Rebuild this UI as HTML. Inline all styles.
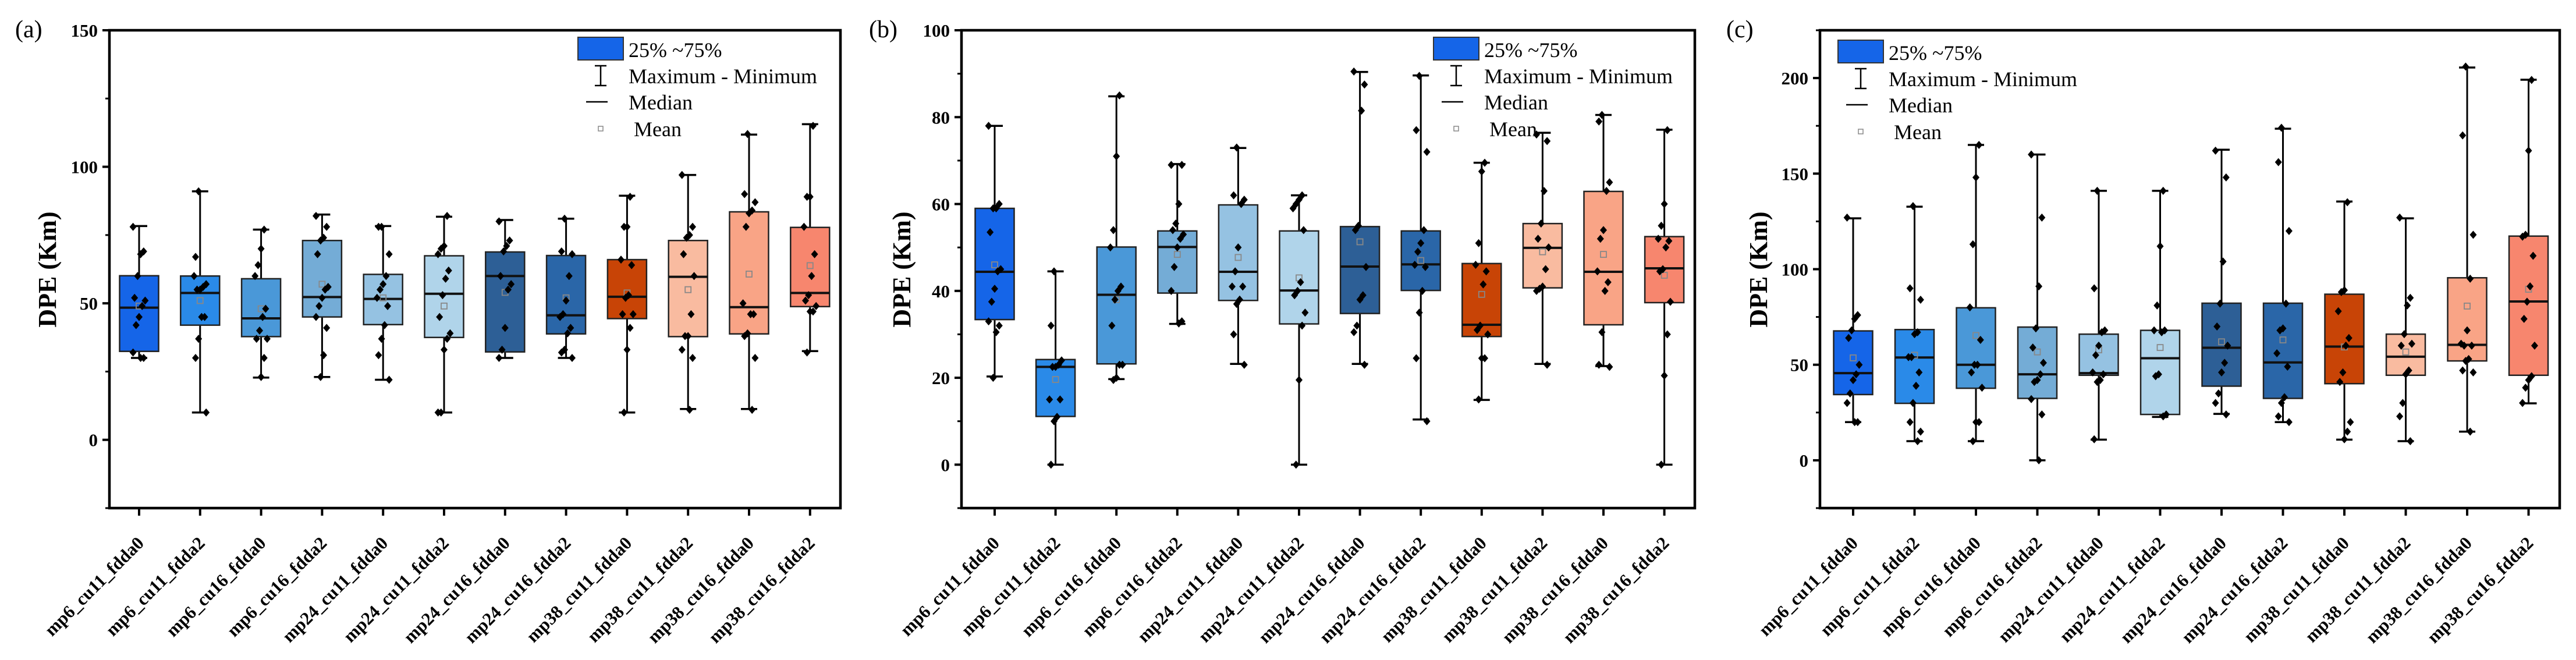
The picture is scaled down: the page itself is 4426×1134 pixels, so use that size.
<!DOCTYPE html>
<html><head><meta charset="utf-8"><style>
html,body{margin:0;padding:0;background:#fff;}
svg{display:block;}
</style></head><body>
<svg id="fig" width="4426" height="1134" viewBox="0 0 4426 1134" xmlns="http://www.w3.org/2000/svg" font-family="'Liberation Serif', serif"></svg>
<script>
const categories = ["mp6_cu11_fdda0","mp6_cu11_fdda2","mp6_cu16_fdda0","mp6_cu16_fdda2","mp24_cu11_fdda0","mp24_cu11_fdda2","mp24_cu16_fdda0","mp24_cu16_fdda2","mp38_cu11_fdda0","mp38_cu11_fdda2","mp38_cu16_fdda0","mp38_cu16_fdda2"];
const boxColors = ["#1565e8","#2a8ae8","#4a98d8","#74acd6","#95c2e2","#b0d4ea","#2d5f96","#2a66a8","#c84406","#f9bba0","#f9a486","#f7866e"];

// Panel (a)
const aQ1 = [32.4,42,37.8,45,42.2,37.5,32.2,38.8,44.4,37.8,38.8,48.8];
const aQ3 = [60.1,60,59,73,60.6,67.4,68.8,67.5,66,73,83.5,77.8];
const aMed = [48.4,53.8,44.5,52.3,51.6,53.5,60,45.6,52.4,59.7,48.6,53.8];
const aMax = [78.3,91,77,82.5,78.3,81.7,80.5,81,89.4,97,111.8,115.6];
const aMin = [30,10,22.8,23,22,10,30,30,10,11.3,11.3,32.5];
const aMean = [49,51,48,57,52,49,54,52,53.8,55,60.7,63.8];
const aPts = [
 [78,69,68,60,52,51,49,45,42,32,30,30],
 [91,67,57,56,55,55,60,45,45,37,30,10],
 [77,70,64,60,48,45,40,37,37,30,23],
 [82,78,74,73,68,56,55,52,49,45,41,31,23],
 [78,78,68,60,57,55,52,49,42,37,31,22],
 [82,71,70,68,62,59,53,45,39,37,33,10,10],
 [80,73,71,69,60,57,55,41,33,30],
 [81,69,68,60,51,46,45,41,39,33,32,30],
 [89,78,78,66,64,53,52,46,46,41,33,10],
 [97,78,75,74,68,60,46,38,38,33,30,11],
 [112,90,87,84,83,78,50,46,46,39,38,30,11],
 [115,89,89,78,68,60,53,51,49,47,47,32]];
const aTicks = [0,50,100,150];
const aMinor = [-25,25,75,125];

// Panel (b)
const bQ1 = [33.4,11.1,23.2,39.5,37.8,32.4,34.8,40.1,29.5,40.7,32.2,37.3];
const bQ3 = [59,24.2,50.1,53.8,59.8,53.8,54.8,53.8,46.3,55.5,62.9,52.5];
const bMed = [44.4,22.5,39.1,50.1,44.4,40.1,45.6,46.1,32.2,49.9,44.4,45.2];
const bMax = [78,44.5,84.8,69.2,72.9,62,90.4,89.6,69.5,76.4,80.5,77.1];
const bMin = [20.3,0,19.7,32.4,23.2,0,23.2,10.4,14.9,23.2,22.7,0];
const bMean = [46,19.6,38,48.4,47.7,43,51.3,47,39.2,49,48.4,43.6];
const bPts = [
 [78,60,59,59,53.5,45,44.5,40.5,37.5,33,32,30.5,20],
 [44.5,32,24,23,22.5,22.5,15,15,11,10,0],
 [85,71,54,50,41,40,38,32,23,23,20,19.5],
 [69,69,60,55.5,54,53,52,50,45.5,40,33,32.5],
 [73,62,61,60,50,44.5,41,41,38,37,30,23],
 [62,61,60,59,54,42,40,39,35,32,19.5,0],
 [90.5,87.5,81.5,55,54,45.5,39,38,32,30.5,23],
 [89.5,77,72,54,51,49,46,45.5,40,35,24.5,10],
 [69.5,67.5,51,46,44.5,41.5,32,31,30,24.5,24.5,15],
 [76,74.5,63,55.5,52,50,45,41,40.5,40,23],
 [80.5,79,65,63,54,52,44.5,42,40,30.5,23,22.5],
 [77,60,55,52,51.5,50,45,44.5,37.5,30,20.5,0]];
const bTicks = [0,20,40,60,80,100];
const bMinor = [-10,10,30,50,70,90];

// Panel (c)
const cQ1 = [34.4,29.8,37.7,32.4,44.5,24,38.8,32.4,40.1,44.5,52,44.5];
const cQ3 = [67.7,68.4,79.8,69.7,66,68,82.2,82.2,86.9,66,95.5,117.3];
const cMed = [45.6,53.8,50,45,45.6,53.4,58.9,51.2,59.5,54.2,60.4,83.1];
const cMax = [126.6,132.7,165,160,141,141,162.5,173.5,135.4,126.6,205.5,199.1];
const cMin = [20,10,10,0,10.8,22.7,24.3,20,10.8,10,15,29.8];
const cMean = [53.6,55,65.3,56.7,57.8,59,62,63,59.3,56.7,80.7,89.5];
const cPts = [
 [127,76,74,68,64,50,45,42,35,30,20,20],
 [133,90,84,67,66,54,54,46,39,30,20,15,10],
 [165,148,113,80,63,50,50,46,38,20,20,10],
 [160,127,91,69,59,51,45,42,41,32,24,0],
 [141,90,68,67,60,55,46,45,42,41,11],
 [141,112,81,68,68,67,45,44,24,23],
 [162,148,104,82,70,60,51,46,35,30,24],
 [174,156,120,82,69,68,56,49,33,30,23,20],
 [135,89,88,78,64,60,46,41,20,15,11],
 [127,85,81,66,60,61,47,45,30,23,10],
 [206,170,118,95,68,60,61,60,53,52,47,46,15],
 [199,162,118,117,107,91,83,74,60,44,42,38,30]];
const cTicks = [0,50,100,150,200];
const cMinor = [-25,25,75,125,175,225];

const NS = "http://www.w3.org/2000/svg";
const svg = document.getElementById("fig");
function mk(tag, attrs, parent){
  const e = document.createElementNS(NS, tag);
  for (const k in attrs) e.setAttribute(k, attrs[k]);
  (parent||svg).appendChild(e);
  return e;
}

function panel(cfg){
  const g = mk("g", {});
  
  
  const top = 52, bot = 873;
  const ys = v => bot - (v - cfg.ymin) / (cfg.ymax - cfg.ymin) * (bot - top);
  const xs = i => cfg.x0 + i * cfg.step;
  const bw = 67, cap = 28;

  const lab = mk("text", {x: cfg.labX, y: 64, "font-size": 42}, g);
  lab.textContent = "(" + cfg.tag + ")";
  
  

  const yt = mk("text", {x: 0, y: 0, "font-size": 44, "font-weight": "bold", "text-anchor": "middle",
    transform: `translate(${cfg.titleX},463) rotate(-90)`}, g);
  yt.textContent = "DPE (Km)";
  
  

  cfg.ticks.forEach(t => {
    const y = ys(t);
    const tk = mk("line", {x1: cfg.left - 12, x2: cfg.left, y1: y, y2: y, stroke: "#000", "stroke-width": 4}, g);
    
    
    const tl = mk("text", {x: cfg.left - 20, y: y + 11, "font-size": 31, "font-weight": "bold", "text-anchor": "end"}, g);
    tl.textContent = t;
    
    
  });
  cfg.minor.forEach(t => {
    const y = ys(t);
    if (y < top - 1 || y > bot + 1) return;
    const mt = mk("line", {x1: cfg.left - 7, x2: cfg.left, y1: y, y2: y, stroke: "#000", "stroke-width": 3}, g);
    
    
  });

  categories.forEach((c, i) => {
    const x = xs(i);
    const color = boxColors[i];
    const gb = mk("g", {}, g);
    
    
    const w = mk("line", {x1: x, x2: x, y1: ys(cfg.max[i]), y2: ys(cfg.min[i]), stroke: "#000", "stroke-width": 3}, gb);
    
    
    [cfg.max[i], cfg.min[i]].forEach(v => {
      const cl = mk("line", {x1: x - cap/2, x2: x + cap/2, y1: ys(v), y2: ys(v), stroke: "#000", "stroke-width": 3.5}, gb);
      
      
    });
    const r = mk("rect", {x: x - bw/2, y: ys(cfg.q3[i]), width: bw, height: ys(cfg.q1[i]) - ys(cfg.q3[i]),
      fill: color, stroke: "#222", "stroke-width": 2.5}, gb);
    
    
    const md = mk("line", {x1: x - bw/2, x2: x + bw/2, y1: ys(cfg.med[i]), y2: ys(cfg.med[i]), stroke: "#111", "stroke-width": 4}, gb);
    
    
    const mn = mk("rect", {x: x - 5, y: ys(cfg.mean[i]) - 5, width: 10, height: 10, fill: "none", stroke: "#888", "stroke-width": 1.8}, gb);
    
    
    cfg.pts[i].forEach((v, k) => {
      const off = ((k * 7 + i * 3) % 9 - 4) * 2.6;
      const px = x + off, py = ys(v);
      const d = mk("path", {d: `M${px},${py-7} L${px+6},${py} L${px},${py+7} L${px-6},${py} Z`, fill: "#000"}, gb);
      
      
    });
    const xt = mk("line", {x1: x, x2: x, y1: bot, y2: bot + 13, stroke: "#000", "stroke-width": 4}, g);
    
    
    const xl = mk("text", {x: 0, y: 0, "font-size": 31, "font-weight": "bold", "text-anchor": "end",
      transform: `translate(${x + 10},${bot + 62}) rotate(-45)`}, g);
    xl.textContent = c;
    
    
  });

  const fr = mk("rect", {x: cfg.left, y: top, width: cfg.right - cfg.left, height: bot - top, fill: "none", stroke: "#000", "stroke-width": 4.5}, g);
  
  

  // legend
  const lg = mk("g", {"font-size": 36}, g);
  
  
  const L = cfg.legX, ly = cfg.legY;
  const lb = mk("rect", {x: L, y: ly - 21, width: 78, height: 39, fill: "#1565e8", stroke: "#333", "stroke-width": 2}, lg);
  
  
  const cx = L + 39;
  const wy = ly + 45;
  const lw = mk("path", {d: `M${cx-10},${wy-17} H${cx+10} M${cx},${wy-17} V${wy+17} M${cx-10},${wy+17} H${cx+10}`, stroke: "#000", "stroke-width": 2.5, fill: "none"}, lg);
  
  
  const lm = mk("line", {x1: cx - 25, x2: cx + 12, y1: ly + 90, y2: ly + 90, stroke: "#000", "stroke-width": 2.5}, lg);
  
  
  const lmn = mk("rect", {x: cx - 4, y: ly + 132, width: 8, height: 8, fill: "none", stroke: "#888", "stroke-width": 1.5}, lg);
  
  
  [["25% ~75%", 0, 9], ["Maximum - Minimum", 45, 9], ["Median", 90, 9], ["Mean", 136, 18]].forEach(([t, dy, dx]) => {
    const tx = mk("text", {x: L + 78 + dx, y: ly + dy + 13}, lg);
    tx.textContent = t;
    
    
  });
}

panel({tag: "a", ymin: -25, ymax: 150, left: 188, right: 1444, x0: 239, step: 104.8, labX: 26, titleX: 96,
  ticks: aTicks, minor: aMinor, q1: aQ1, q3: aQ3, med: aMed, max: aMax, min: aMin, mean: aMean, pts: aPts,
  legX: 993, legY: 85});
panel({tag: "b", ymin: -10, ymax: 100, left: 1652, right: 2912, x0: 1709, step: 104.6, labX: 1493, titleX: 1564,
  ticks: bTicks, minor: bMinor, q1: bQ1, q3: bQ3, med: bMed, max: bMax, min: bMin, mean: bMean, pts: bPts,
  legX: 2463, legY: 85});
panel({tag: "c", ymin: -25, ymax: 225, left: 3127, right: 4398, x0: 3184, step: 105.5, labX: 2966, titleX: 3036,
  ticks: cTicks, minor: cMinor, q1: cQ1, q3: cQ3, med: cMed, max: cMax, min: cMin, mean: cMean, pts: cPts,
  legX: 3158, legY: 90});
</script>
</body></html>
